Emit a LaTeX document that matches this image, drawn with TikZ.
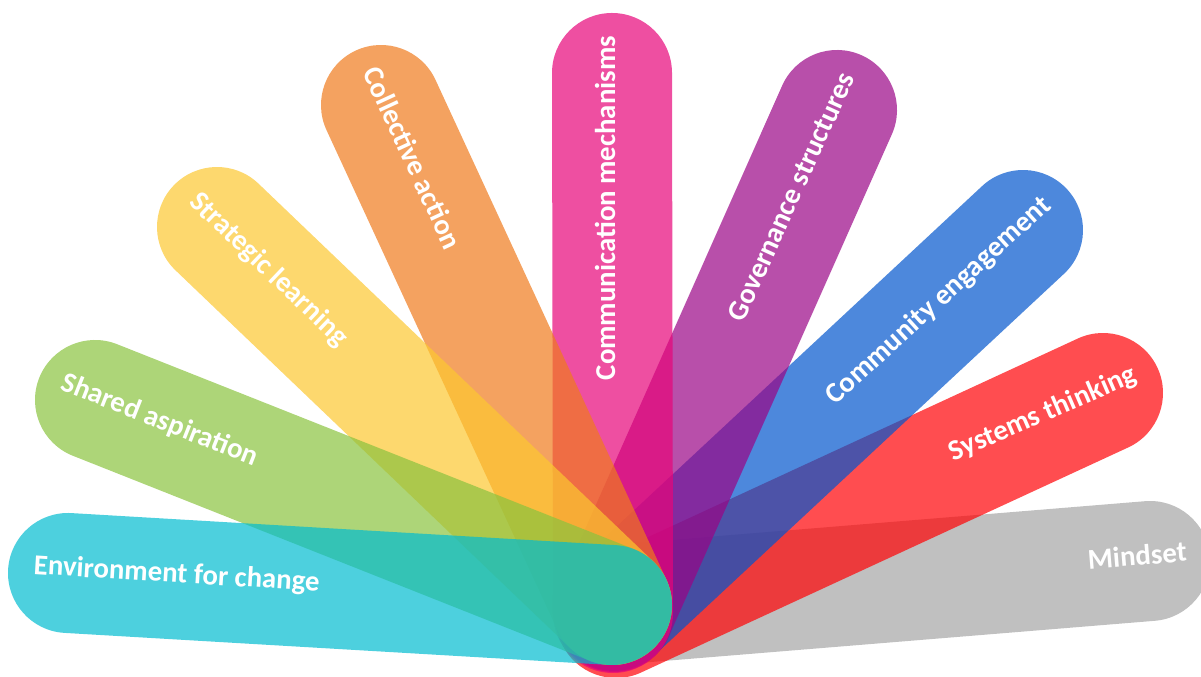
\documentclass[tikz,border=0pt]{standalone}
\usepackage{fontspec}
\setmainfont{Carlito}
\usetikzlibrary{calc}
\definecolor{cCyan}{RGB}{1,188,208}
\definecolor{cGreen}{RGB}{138,195,62}
\definecolor{cYellow}{RGB}{252,199,48}
\definecolor{cOrange}{RGB}{239,122,29}
\definecolor{cPink}{RGB}{231,4,121}
\definecolor{cPurple}{RGB}{154,4,134}
\definecolor{cBlue}{RGB}{1,85,205}
\definecolor{cRed}{RGB}{255,2,5}
\definecolor{cGray}{RGB}{165,165,165}
\begin{document}
\begin{tikzpicture}[x=0.75pt,y=0.75pt,
  blade/.style={line width=90pt, line cap=round, draw=#1, draw opacity=0.7},
  lbl/.style={text=white, font=\bfseries\fontsize{21.6}{26}\selectfont, inner sep=0pt}]
\useasboundingbox (0,0) rectangle (1201,677);
\clip (0,0) rectangle (1201,677);
\coordinate (P) at (612,72);
\coordinate (Pred) at (616,59);
\coordinate (Pblue) at (614,66);
\coordinate (Ppink) at (613,64);
\coordinate (Ppurple) at (614,65);
\coordinate (c1) at (68,104);
\coordinate (c2) at (95,277);
\coordinate (c3) at (217,450);
\coordinate (c4) at (381,572);
\coordinate (c5) at (612,604);
\coordinate (c6) at (837,567);
\coordinate (c7) at (1023,447);
\coordinate (c8) at (1103,284);
\coordinate (c9) at (1150,116);
% blades
\draw[blade=cGray]   (P) -- (c9);
\draw[blade=cRed]    (Pred) -- (c8);
\draw[blade=cBlue]   (Pblue) -- (c7);
\draw[blade=cPurple] (Ppurple) -- (c6);
\draw[blade=cPink]   (Ppink) -- (c5);
\draw[blade=cOrange] (P) -- (c4);
\draw[blade=cYellow] (P) -- (c3);
\draw[blade=cGreen]  (P) -- (c2);
\draw[blade=cCyan]   (P) -- (c1);
% labels
\node[lbl, rotate=-3.4, anchor=mid west] (t1) at ($(c1)!-26pt!(P)$) {Environment for change};
\node[lbl, rotate=-21.6, anchor=mid west] (t2) at ($(c2)!-28pt!(P)$) {Shared aspiration};
\node[lbl, rotate=-43.7, anchor=mid west] (t3) at ($(c3)!-28pt!(P)$) {Strategic learning};
\node[lbl, rotate=-65.2, anchor=mid west] (t4) at ($(c4)!-28pt!(P)$) {Collective action};
\node[lbl, rotate=90, anchor=mid east] (t5) at ($(c5)!-28pt!(P)$) {Communication mechanisms};
\node[lbl, rotate=65.6, anchor=mid east] (t6) at ($(c6)!-28pt!(P)$) {Governance structures};
\node[lbl, rotate=42.4, anchor=mid east] (t7) at ($(c7)!-28pt!(P)$) {Community engagement};
\node[lbl, rotate=23.4, anchor=mid east] (t8) at ($(c8)!-28pt!(P)$) {Systems thinking};
\node[lbl, rotate=4.6, anchor=mid east] (t9) at ($(c9)!-28pt!(P)$) {Mindset};
\end{tikzpicture}
\end{document}
